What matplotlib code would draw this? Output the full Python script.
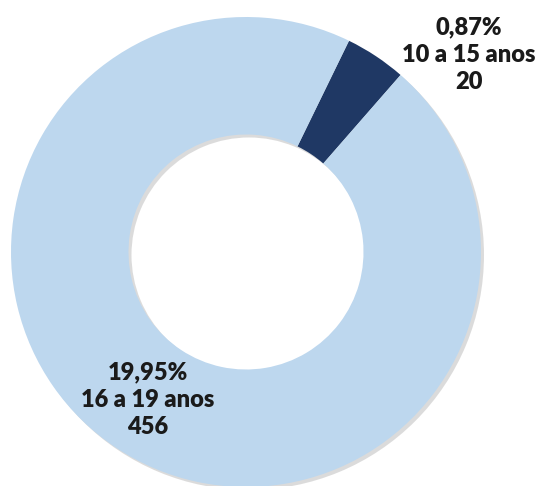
import matplotlib.pyplot as plt
from matplotlib.patches import Wedge

# data
faixas = ['10 a 15 anos', '16 a 19 anos']
valores = [20, 456]
percentuais = ['0,87%', '19,95%']
cores = ['#1F3864', '#BDD7EE']

fig = plt.figure(figsize=(5.4, 4.86), dpi=100)
ax = fig.add_axes([0, 0, 1, 1])

cx, cy, r = 246, 234, 235

# soft shadow behind the ring
ax.add_patch(Wedge((cx + 3, cy - 3), r, 0, 360, width=r * 0.5,
                   facecolor='#9a9a9a', alpha=0.35, edgecolor='none'))

ax.pie(valores, colors=cores, startangle=64, counterclock=False,
       radius=r, center=(cx, cy), frame=True,
       wedgeprops=dict(width=r * 0.5, edgecolor='none'))
ax.set_xlim(0, 540)
ax.set_ylim(0, 486)
ax.set_aspect('equal')
ax.axis('off')

fonte = dict(family=['Lato', 'DejaVu Sans'], fontweight='heavy', fontsize=17,
             color='#1a1a1a', ha='center', va='center', linespacing=1.3)
ax.text(469, 431, f'{percentuais[0]}\n{faixas[0]}\n{valores[0]}', **fonte)
ax.text(148, 86, f'{percentuais[1]}\n{faixas[1]}\n{valores[1]}', **fonte)

fig.savefig('out.png', dpi=100)
